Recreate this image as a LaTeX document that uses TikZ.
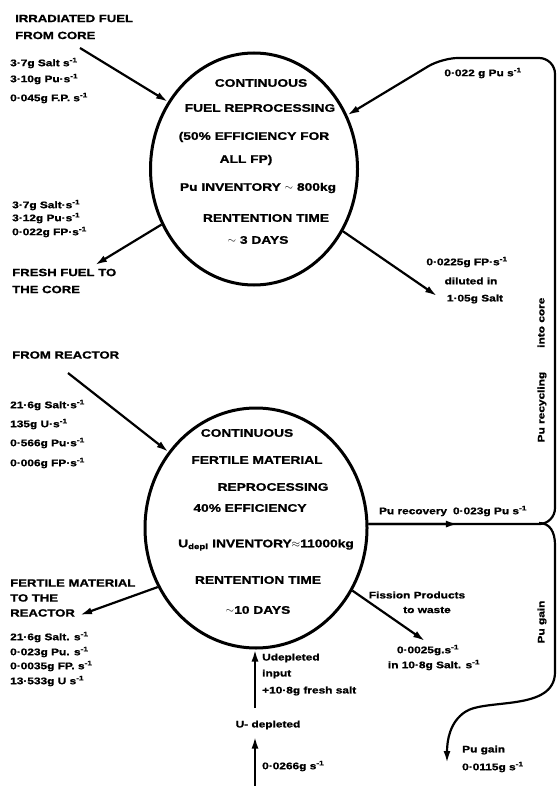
\documentclass[tikz,border=0pt]{standalone}
\usepackage{fontspec}
\setmainfont{Liberation Sans}[FakeStretch=1.25, BoldFeatures={FakeBold=1.2}]
\usetikzlibrary{arrows.meta,shapes.geometric,calc}

\begin{document}
\begin{tikzpicture}[x=1pt,y=-1pt,
  proc/.style={draw, ellipse, line width=3pt, inner sep=0pt},
  flow/.style={line width=2.2pt},
  tip/.style={-{Latex[length=12pt,width=7pt]}},
  head/.style={font=\bfseries\fontsize{10.5}{17}\selectfont, anchor=west, inner sep=0pt, align=left},
  intext/.style={font=\bfseries\fontsize{11}{13}\selectfont, inner sep=0pt},
  qty/.style={font=\bfseries\fontsize{9.5}{11}\selectfont, anchor=west, inner sep=0pt},
  qtyc/.style={font=\bfseries\fontsize{9.5}{11}\selectfont, inner sep=0pt},
  vert/.style={font=\bfseries\fontsize{9.5}{11}\selectfont, inner sep=0pt, rotate=90},
]
\useasboundingbox (0,0) rectangle (557,786);

% ---------- fuel reprocessing unit ----------
\node[proc, minimum width=207pt, minimum height=232pt] (fuel) at (254,169) {};
\node[intext] (f1) at (261,83)  {CONTINUOUS};
\node[intext] (f2) at (260,108) {FUEL REPROCESSING};
\node[intext] (f3) at (254,137) {(50\% EFFICIENCY FOR};
\node[intext] (f4) at (246,160) {ALL FP)};
\node[intext] (f5) at (258,188) {Pu INVENTORY $\sim$ 800kg};
\node[intext] (f6) at (266,218) {RENTENTION TIME};
\node[intext] (f7) at (258,240) {$\sim$ 3 DAYS};

% irradiated fuel in
\node[head] (irr) at (15,27) {IRRADIATED FUEL\\FROM CORE};
\node[qty] (irr1) at (10,63) {3·7g Salt s\textsuperscript{-1}};
\node[qty] (irr2) at (10,79) {3·10g Pu·s\textsuperscript{-1}};
\node[qty] (irr3) at (10,98) {0·045g F.P. s\textsuperscript{-1}};
\coordinate (irrEnd) at (80,48);
\draw[flow,tip] (irrEnd) -- (fuel.142);

% fresh fuel out
\node[qty] (fr1) at (12,205) {3·7g Salt·s\textsuperscript{-1}};
\node[qty] (fr2) at (12,218) {3·12g Pu·s\textsuperscript{-1}};
\node[qty] (fr3) at (12,232) {0·022g FP·s\textsuperscript{-1}};
\node[head] (fresh) at (12,281) {FRESH FUEL TO\\THE CORE};
\coordinate (freshEnd) at (95,265);
\draw[flow,tip] (fuel.211) -- (freshEnd);

% fission products out
\node[qtyc] (fp1) at (467,262) {0·0225g FP·s\textsuperscript{-1}};
\node[qtyc] (fp2) at (471,281) {diluted in};
\node[qtyc] (fp3) at (475,299) {1·05g Salt};
\coordinate (fpEnd) at (437,296);
\draw[flow,tip] (fuel.325) -- (fpEnd);

% ---------- fertile material reprocessing unit ----------
\node[proc, minimum width=222pt, minimum height=240pt] (fert) at (256,528) {};
\node[intext] (m1) at (247,433) {CONTINUOUS};
\node[intext] (m2) at (257,460) {FERTILE MATERIAL};
\node[intext] (m3) at (273,487) {REPROCESSING};
\node[intext] (m4) at (250,508) {40\% EFFICIENCY};
\node[intext] (m5) at (266,545) {U\textsubscript{depl} INVENTORY$\approx$11000kg};
\node[intext] (m6) at (258,580) {RENTENTION TIME};
\node[intext] (m7) at (258,610) {$\sim$10 DAYS};

% from reactor
\node[head] (react) at (12,355) {FROM REACTOR};
\node[qty] (r1) at (10,405) {21·6g Salt·s\textsuperscript{-1}};
\node[qty] (r2) at (10,424) {135g U·s\textsuperscript{-1}};
\node[qty] (r3) at (10,443) {0·566g Pu·s\textsuperscript{-1}};
\node[qty] (r4) at (10,463) {0·006g FP·s\textsuperscript{-1}};
\coordinate (reactEnd) at (68,373);
\draw[flow,tip] (reactEnd) -- (fert.139);

% fertile material back to the reactor
\node[head] (back) at (10,598) {FERTILE MATERIAL\\[-2pt]TO THE\\[-2pt]REACTOR};
\node[qty] (b1) at (10,637) {21·6g Salt. s\textsuperscript{-1}};
\node[qty] (b2) at (10,652) {0·023g Pu. s\textsuperscript{-1}};
\node[qty] (b3) at (10,666) {0·0035g FP. s\textsuperscript{-1}};
\node[qty] (b4) at (10,681) {13·533g U s\textsuperscript{-1}};
\coordinate (backEnd) at (80,615);
\draw[flow,tip] (fert.211) -- (backEnd);

% fission products to waste
\node[qtyc] (w1) at (417,595) {Fission Products};
\node[qtyc] (w2) at (427,610) {to waste};
\node[qtyc] (w3) at (428,650) {0·0025g.s\textsuperscript{-1}};
\node[qtyc] (w4) at (434,665) {in 10·8g Salt. s\textsuperscript{-1}};
\coordinate (wasteEnd) at (425,641);
\draw[flow,tip] (fert.327) -- (wasteEnd);

% depleted uranium feed
\node[qty] (ui1) at (262,658) {Udepleted};
\node[qty] (ui2) at (262,674) {input};
\node[qty] (ui3) at (262,691) {+10·8g fresh salt};
\node[qtyc] (udep) at (268,725) {U- depleted};
\coordinate (uTop) at (255,708);
\draw[flow,tip] (uTop) -- (uTop |- fert.south);
\coordinate (uBot) at (255,786);
\draw[flow,tip] (uBot) -- ($(uBot |- udep.south)+(0,7)$);
\node[qty] (ud1) at (262,766) {0·0266g s\textsuperscript{-1}};

% ---------- plutonium recycling and gain ----------
\coordinate (jn) at (555,523);
\coordinate (rTop) at (555,58);
\coordinate (puTopL) at (442,58);
\draw[flow,tip,rounded corners=16pt] (fert.2.5) -- (fert.2.5 -| jn) -- (rTop) -- (puTopL) -- (fuel.30);
\draw[flow,tip] (fert.2.5) -- ($(fert.2.5)!0.48!(fert.2.5 -| jn)$);
\node[qtyc] (rec) at (453,511) {Pu recovery\hspace{6pt}0·023g Pu s\textsuperscript{-1}};
\node[qtyc] (puin) at (483,73) {0·022 g Pu s\textsuperscript{-1}};
\node[vert] (recyc) at (542,370) {Pu recycling\hspace{24pt}into core};

\coordinate (gJ) at (539,523);
\coordinate (g1) at (555,545);
\coordinate (g2) at (555,672);
\coordinate (g3) at (465,712);
\coordinate (gainEnd) at (447,763);
\draw[flow,tip] (gJ) .. controls (550,523) and (555,532) .. (g1) -- (g2)
  .. controls (555,712) and (485,698) .. (g3)
  .. controls (450,722) and (447,740) .. (gainEnd);
\node[vert] (gainv) at (542,622) {Pu gain};
\node[qty] (gain1) at (462,750) {Pu gain};
\node[qty] (gain2) at (462,767) {0·0115g s\textsuperscript{-1}};
\end{tikzpicture}
\end{document}
